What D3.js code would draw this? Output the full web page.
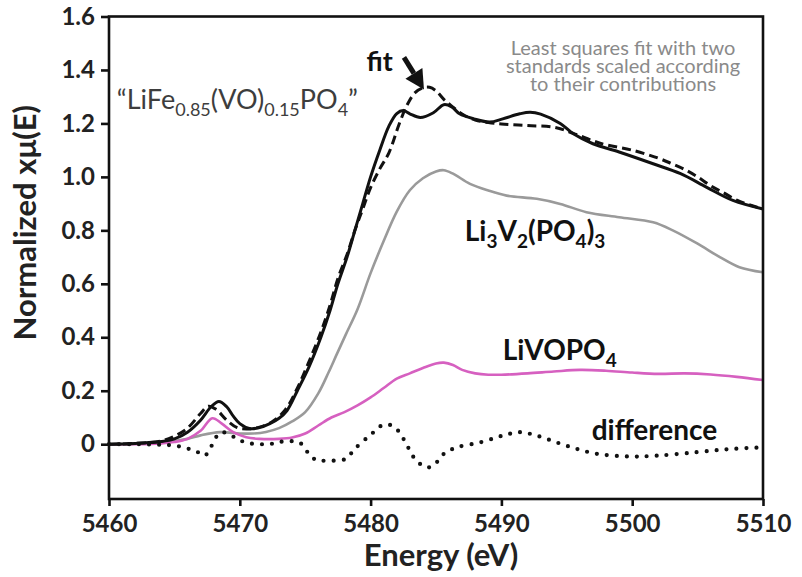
<!DOCTYPE html>
<html><head><meta charset="utf-8">
<script src="https://cdn.jsdelivr.net/npm/d3@7"></script>
<style>
html,body{margin:0;padding:0;background:#fff;}
svg{display:block;}
text{font-family:Lato,"Open Sans","DejaVu Sans",sans-serif;}
</style></head>
<body>
<script>
// ---- data ----
const sampleE = [5460,5462,5464,5465,5466,5467,5467.8,5468.4,5469,5469.5,5470,5470.8,5471.5,5472.3,5473,5473.6,5474.4,5475.3,5476.2,5476.9,5477.5,5478.2,5478.8,5479.4,5480,5480.7,5481.4,5482,5482.5,5483,5483.8,5484.8,5485.6,5486.2,5486.8,5487.9,5489.1,5490.1,5491.4,5492.2,5493,5494.5,5495.5,5497,5499,5501.6,5503.7,5505.7,5507.7,5510];
const sampleMu = [0,0.003,0.01,0.02,0.045,0.09,0.14,0.16,0.14,0.105,0.077,0.058,0.062,0.077,0.097,0.125,0.2,0.29,0.4,0.5,0.6,0.7,0.8,0.9,1.0,1.1,1.19,1.237,1.248,1.236,1.222,1.24,1.27,1.262,1.236,1.217,1.205,1.217,1.236,1.242,1.235,1.2,1.161,1.124,1.093,1.049,1.012,0.961,0.912,0.88];

const fitE = [5460,5462,5464,5465,5466,5467,5467.6,5468.2,5469,5469.8,5470.5,5471.5,5472.5,5473.5,5474.4,5475.3,5476.2,5476.9,5477.5,5478.2,5478.8,5479.4,5480,5480.7,5481.4,5482.2,5482.8,5483.4,5484,5484.5,5485,5485.6,5486.2,5487,5488,5489,5490,5492,5494,5495.5,5497,5498,5500,5502,5503,5504,5505,5506,5507,5508,5509,5510];
const fitMu = [0,0.003,0.012,0.03,0.06,0.115,0.142,0.13,0.09,0.062,0.057,0.064,0.085,0.13,0.21,0.31,0.42,0.52,0.62,0.71,0.8,0.88,0.96,1.03,1.09,1.2,1.27,1.315,1.333,1.335,1.322,1.29,1.265,1.235,1.213,1.203,1.198,1.192,1.186,1.163,1.135,1.12,1.1,1.07,1.05,1.028,1.0,0.967,0.94,0.913,0.895,0.88];

const li3v2E = [5460,5462,5464,5466,5467,5468.5,5470,5471,5472,5473,5474,5475,5476,5476.8,5477.4,5478.1,5479,5480,5481,5482,5483,5484,5485,5485.6,5486.3,5487.6,5489,5490.4,5492.7,5494.5,5496.5,5499,5501.6,5503.1,5505,5506.7,5508.2,5510];
const li3v2Mu = [0,0.002,0.006,0.02,0.033,0.045,0.04,0.04,0.046,0.06,0.085,0.12,0.19,0.27,0.335,0.41,0.505,0.64,0.76,0.87,0.95,0.995,1.02,1.025,1.012,0.974,0.949,0.93,0.918,0.899,0.868,0.849,0.83,0.8,0.75,0.7,0.662,0.643];

const livopoE = [5460,5462,5464,5465,5466,5467,5467.9,5468.6,5469.5,5470.5,5471.5,5473,5474,5475,5476,5477,5478,5479,5480,5481,5482,5483,5484,5485,5485.6,5486.3,5487,5488,5489,5490,5492,5494,5496,5498,5500,5502,5504,5506,5508,5510];
const livopoMu = [0,0,0.003,0.008,0.02,0.05,0.097,0.078,0.045,0.026,0.02,0.02,0.025,0.04,0.07,0.1,0.12,0.145,0.175,0.21,0.245,0.265,0.285,0.302,0.305,0.296,0.278,0.265,0.26,0.26,0.265,0.272,0.278,0.275,0.268,0.263,0.265,0.261,0.252,0.24];

const diffE = [5460,5462,5464,5465,5466,5466.8,5467.3,5467.7,5468.1,5468.6,5469.6,5470.4,5471.5,5472.5,5473.3,5474.6,5475.5,5476.1,5477,5478.1,5478.8,5480,5481,5481.8,5482.6,5483.3,5484.2,5484.8,5485.6,5486.6,5488.4,5490.1,5491.4,5492.7,5494.2,5495.8,5497.3,5499.8,5501.9,5504.9,5507.5,5510];
const diffMu = [0,0,-0.002,-0.005,-0.016,-0.03,-0.043,-0.02,0.02,0.045,0.026,0.007,0,0.002,0.01,0.005,-0.05,-0.06,-0.062,-0.055,-0.017,0.035,0.073,0.065,0.013,-0.049,-0.086,-0.08,-0.036,-0.012,0.007,0.032,0.045,0.032,0.007,-0.018,-0.036,-0.046,-0.043,-0.03,-0.018,-0.012];

const xTicks = [5460,5470,5480,5490,5500,5510];
const yTicks = [0,0.2,0.4,0.6,0.8,1.0,1.2,1.4,1.6];

// ---- layout ----
const W = 802, H = 577;
const L = 109, R = 763, T = 16.5, B = 499;
const svg = d3.select("body").append("svg").attr("width", W).attr("height", H);
const x = d3.scaleLinear().domain([5460, 5510]).range([L, R]);
const y = d3.scaleLinear().domain([-0.205, 1.6]).range([B, T]);

const line = d3.line().x(d => x(d[0])).y(d => y(d[1])).curve(d3.curveCatmullRom.alpha(0.5));
const zip = (a, b) => a.map((v, i) => [v, b[i]]);

const plot = svg.append("g");
plot.append("path").datum(zip(li3v2E, li3v2Mu)).attr("d", line)
  .attr("fill", "none").attr("stroke", "#9a9a9a").attr("stroke-width", 2.6);
plot.append("path").datum(zip(livopoE, livopoMu)).attr("d", line)
  .attr("fill", "none").attr("stroke", "#d660c0").attr("stroke-width", 2.6);
plot.append("path").datum(zip(diffE, diffMu)).attr("d", line)
  .attr("fill", "none").attr("stroke", "#111").attr("stroke-width", 4.2)
  .attr("stroke-linecap", "round").attr("stroke-dasharray", "0 10");
plot.append("path").datum(zip(fitE, fitMu)).attr("d", line)
  .attr("fill", "none").attr("stroke", "#111").attr("stroke-width", 3)
  .attr("stroke-dasharray", "9 5");
plot.append("path").datum(zip(sampleE, sampleMu)).attr("d", line)
  .attr("fill", "none").attr("stroke", "#111").attr("stroke-width", 3);

// ---- frame & axes ----
svg.append("rect").attr("x", L).attr("y", T).attr("width", R - L).attr("height", B - T)
  .attr("fill", "none").attr("stroke", "#111").attr("stroke-width", 2.6);

const yAxis = svg.append("g").attr("transform", `translate(${L},0)`)
  .call(d3.axisLeft(y).tickValues(yTicks).tickSize(8).tickSizeOuter(0).tickPadding(6)
    .tickFormat(d => d === 0 ? "0" : d.toFixed(1)));
const xAxis = svg.append("g").attr("transform", `translate(0,${B})`)
  .call(d3.axisBottom(x).tickValues(xTicks).tickSize(7).tickSizeOuter(0).tickPadding(9)
    .tickFormat(d3.format("d")));
[yAxis, xAxis].forEach(g => {
  g.select(".domain").remove();
  g.selectAll(".tick line").attr("stroke", "#111").attr("stroke-width", 2.6);
  g.selectAll(".tick text").attr("fill", "#222").style("font-size", "24px").style("font-weight", "700")
    .style("font-family", "Lato, sans-serif");
});

// axis titles
svg.append("text").attr("transform", `translate(36,${(T + B) / 2 - 35}) rotate(-90)`)
  .attr("text-anchor", "middle").attr("fill", "#222")
  .style("font-size", "31px").style("font-weight", "700").text("Normalized xμ(E)");
svg.append("text").attr("x", (L + R) / 2 + 5).attr("y", 566)
  .attr("text-anchor", "middle").attr("fill", "#222")
  .style("font-size", "31px").style("font-weight", "700").text("Energy (eV)");

// ---- annotations ----
function rich(parts, px, py, opts) {
  const t = svg.append("text").attr("x", px).attr("y", py)
    .attr("fill", opts.fill).style("font-size", opts.size + "px")
    .style("font-weight", opts.weight).attr("text-anchor", opts.anchor || "start");
  let shift = 0;
  parts.forEach(p => {
    const isSub = p[1] === "sub";
    const target = isSub ? opts.subShift : 0;
    const ts = t.append("tspan").text(p[0]).attr("dy", target - shift);
    if (isSub) ts.style("font-size", opts.subSize + "px");
    shift = target;
  });
  return t;
}

rich([["\u201CLiFe"], ["0.85", "sub"], ["(VO)"], ["0.15", "sub"], ["PO"], ["4", "sub"], ["\u201D"]],
  x(5460.6), y(1.255), {fill: "#3d3d3d", size: 27, weight: 400, subSize: 18, subShift: 7});

svg.append("text").attr("x", x(5480.7)).attr("y", y(1.395)).attr("text-anchor", "middle")
  .attr("fill", "#111").style("font-size", "27px").style("font-weight", "700").text("fit");

// arrow pointing to the fit maximum
const a0 = [x(5482.55), y(1.447)], a1 = [x(5484.08), y(1.327)];
const ang = Math.atan2(a1[1] - a0[1], a1[0] - a0[0]);
const hl = 19, hw = 10;
const base = [a1[0] - hl * Math.cos(ang), a1[1] - hl * Math.sin(ang)];
svg.append("line").attr("x1", a0[0]).attr("y1", a0[1]).attr("x2", base[0]).attr("y2", base[1])
  .attr("stroke", "#111").attr("stroke-width", 5);
svg.append("path").attr("fill", "#111").attr("d",
  `M${a1[0]},${a1[1]}L${base[0] + hw * Math.sin(ang)},${base[1] - hw * Math.cos(ang)}L${base[0] - hw * Math.sin(ang)},${base[1] + hw * Math.cos(ang)}Z`);

const note = ["Least squares fit with two", "standards scaled according", "to their contributions"];
note.forEach((s, i) => svg.append("text").attr("x", x(5499.3)).attr("y", 55 + i * 18)
  .attr("text-anchor", "middle").attr("fill", "#8a8a8a").style("font-size", "20px").text(s));

rich([["Li"], ["3", "sub"], ["V"], ["2", "sub"], ["(PO"], ["4", "sub"], [")"], ["3", "sub"]],
  x(5487.2), y(0.762), {fill: "#111", size: 28, weight: 700, subSize: 19, subShift: 7});
rich([["LiVOPO"], ["4", "sub"]],
  x(5490.1), y(0.315), {fill: "#111", size: 28, weight: 700, subSize: 19, subShift: 7});
svg.append("text").attr("x", x(5496.9)).attr("y", y(0.015))
  .attr("fill", "#111").style("font-size", "28px").style("font-weight", "700").text("difference");
</script>
</body></html>
